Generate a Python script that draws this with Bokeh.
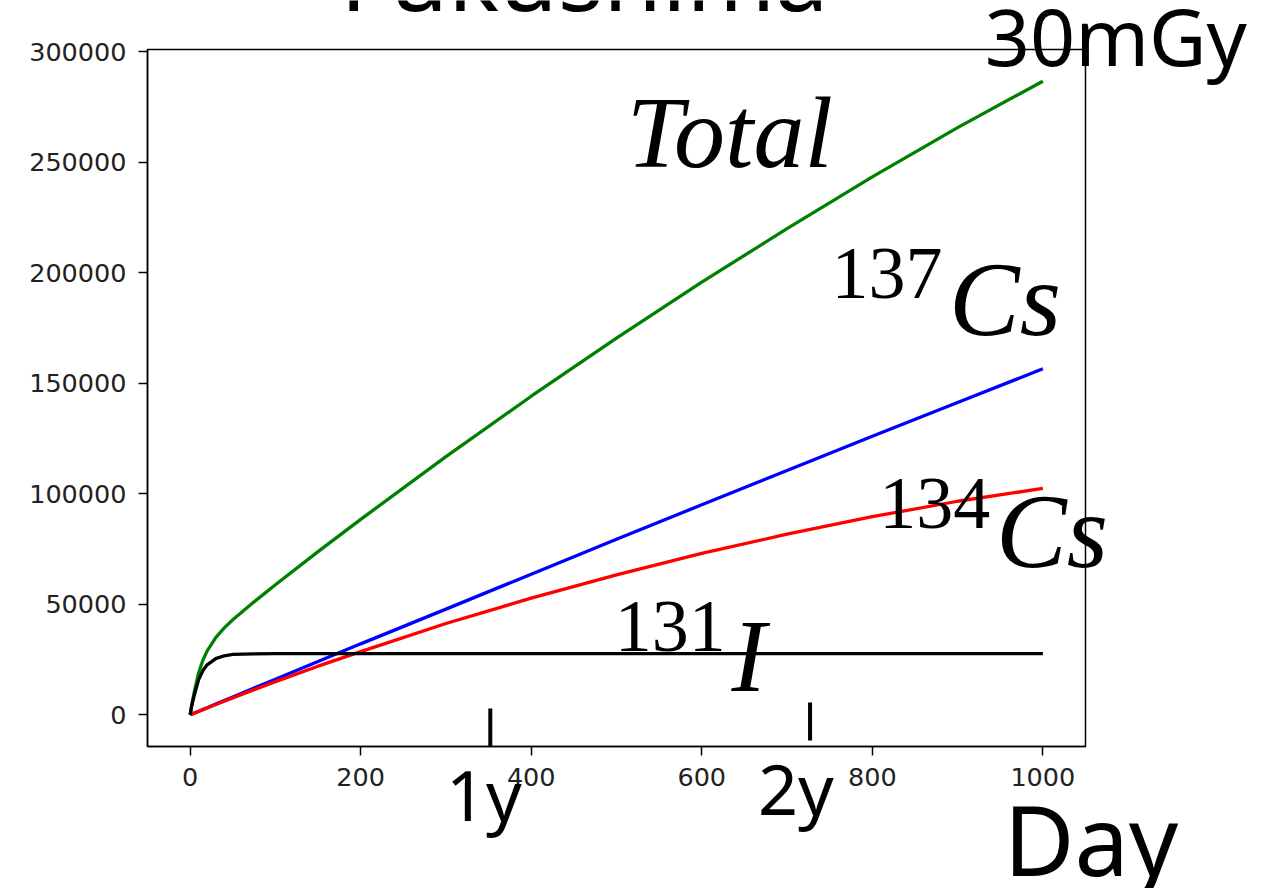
from bokeh.plotting import figure
from bokeh.models import Label, LinearAxis, FixedTicker, BasicTickFormatter, ColumnDataSource
from bokeh.embed import file_html
from bokeh.resources import INLINE

# ---- data ----
days = [0, 2, 5, 10, 15, 20, 30, 40, 50, 75, 100, 150, 200, 300, 400, 500, 600, 700, 800, 900, 1000]
i131 = [0, 4300, 9100, 15900, 20000, 22600, 25400, 26700, 27300, 27600, 27700, 27700, 27700,
        27700, 27700, 27700, 27700, 27700, 27700, 27700, 27700]
cs137 = [0, 320, 810, 1600, 2420, 3230, 4840, 6450, 8070, 12100, 16100, 24100, 32100,
         47800, 63600, 79400, 95000, 110500, 126000, 141300, 156500]
cs134 = [0, 310, 780, 1560, 2340, 3110, 4660, 6200, 7660, 11400, 15000, 22000, 28600,
         41300, 52800, 63300, 73000, 81700, 89600, 96600, 102400]
total = [0, 4930, 10690, 19060, 24760, 28940, 34900, 39350, 43030, 51100, 58800, 73800, 88400,
         116800, 144100, 170400, 195700, 219900, 243300, 265600, 286600]

x_ticks = [0, 200, 400, 600, 800, 1000]
y_ticks = [0, 50000, 100000, 150000, 200000, 250000, 300000]

year_days = [352, 727]
year_tick_top = [2860, 5570]
year_tick_bottom = [-14330, -11620]

# axes box (matplotlib limits)
XMIN, XMAX = -50, 1050
YMIN, YMAX = -14330, 300930

W, H = 1258, 888
# whole canvas is the frame; the axes box sits inside it
CX0, CX1 = -222.4, 1252.9
CY0, CY1 = -78557, 323093
Y_PER_PX = (CY1 - CY0) / H

src = ColumnDataSource(dict(day=days, i131=i131, cs137=cs137, cs134=cs134, total=total))

p = figure(width=W, height=H, min_border=0,
           x_range=(CX0, CX1), y_range=(CY0, CY1),
           x_axis_location=None, y_axis_location=None,
           output_backend="svg", toolbar_location=None, tools="")
p.xgrid.visible = False
p.ygrid.visible = False
p.outline_line_color = None
p.background_fill_color = "white"
p.border_fill_color = "white"

xaxis = LinearAxis(fixed_location=YMIN, bounds=(XMIN, XMAX), ticker=FixedTicker(ticks=x_ticks))
yaxis = LinearAxis(fixed_location=XMIN, bounds=(YMIN, YMAX), ticker=FixedTicker(ticks=y_ticks),
                   formatter=BasicTickFormatter(use_scientific=False))
for ax in (xaxis, yaxis):
    ax.axis_line_color = "black"
    ax.axis_line_width = 1.5
    ax.major_tick_line_color = "black"
    ax.major_tick_line_width = 1.5
    ax.major_tick_out = 9
    ax.major_tick_in = 0
    ax.minor_tick_line_color = None
    ax.major_label_standoff = 12
    ax.major_label_text_font = "DejaVu Sans"
    ax.major_label_text_font_size = "25.5px"
    ax.major_label_text_color = "#222222"
p.add_layout(xaxis, "below")
p.add_layout(yaxis, "left")

# top and right spines
p.quad(left=[XMIN], right=[XMAX], bottom=[YMIN], top=[YMAX],
       fill_color=None, line_color="black", line_width=1.5)

lw = 3.3
p.line("day", "total", source=src, line_color="#008000", line_width=lw)
p.line("day", "cs137", source=src, line_color="#0000ff", line_width=lw)
p.line("day", "cs134", source=src, line_color="#ff0000", line_width=lw)
p.line("day", "i131", source=src, line_color="black", line_width=lw)

p.segment(x0=year_days, y0=year_tick_top, x1=year_days, y1=year_tick_bottom,
          line_color="black", line_width=4)


def lab(x, y, text, font, size, style="normal"):
    # baseline correction for Bokeh's text box placement
    y_fix = y + 0.37 * size * Y_PER_PX
    p.add_layout(Label(x=x, y=y_fix, text=text, text_font=font, text_font_size=f"{size}px",
                       text_font_style=style, text_baseline="alphabetic", text_align="left",
                       text_color="black"))


serif = "Liberation Serif"
sans = "Noto Sans"
lab(512, 246200, "Total", serif, 102, "italic")
lab(752, 187400, "137", serif, 74)
lab(890, 170200, "Cs", serif, 106, "italic")
lab(808, 83370, "134", serif, 74)
lab(945, 65270, "Cs", serif, 106, "italic")
lab(498, 27730, "131", serif, 74)
lab(635, 9640, "I", serif, 104, "italic")
lab(932, 294140, "30mGy", sans, 79)
lab(954, -71800, "Day", sans, 97)
lab(300, -47350, "1y", sans, 70)
lab(666, -44630, "2y", sans, 70)
lab(176, 319000, "Fukushima", sans, 95)

open("out.html", "w").write(file_html(p, INLINE))
